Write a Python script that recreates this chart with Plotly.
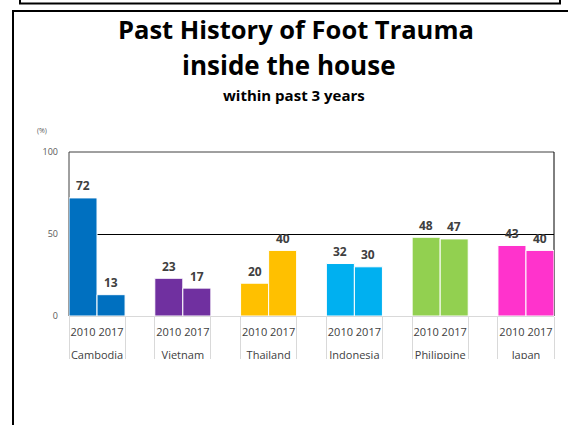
import plotly.graph_objects as go

countries = ["Cambodia", "Vietnam", "Thailand", "Indonesia", "Philippine", "Japan"]
years = ["2010", "2017"]
values_2010 = [72, 23, 20, 32, 48, 43]
values_2017 = [13, 17, 40, 30, 47, 40]
colors = ["#0070C0", "#7030A0", "#FFC000", "#00B0F0", "#92D050", "#FF33CC"]
y_ticks = [0, 50, 100]

W, H = 568, 425
L, R, T, B = 69, 14, 152, 109
PW, PH = W - L - R, H - T - B
FONT = "Open Sans"
GREY = "#404040"


def px(xp):
    return (xp - L) / PW


def py(yp):
    return (H - B - yp) / PH


STEP = 3.06
centers = [i * STEP for i in range(len(countries))]
xrange = [centers[0] - 1, centers[-1] + 1]
edges = [e for c in centers for e in (c - 1, c + 1)]
year_pos = [p for c in centers for p in (c - 0.5, c + 0.5)]
year_text = [y for _ in centers for y in years]

fig = go.Figure()
for vals, off, yr in ((values_2010, -1, years[0]), (values_2017, 0, years[1])):
    fig.add_bar(
        x=centers, y=vals, offset=off, width=1, name=yr,
        marker=dict(color=colors, line=dict(color="white", width=1)),
        showlegend=False, hoverinfo="skip",
    )
    for c, v in zip(centers, vals):
        fig.add_annotation(x=c + off + 0.5, y=v, text=str(v), showarrow=False,
                           xanchor="center", yanchor="middle", yshift=12,
                           font=dict(family=FONT, size=12, color=GREY, weight="bold"))

# carriers for the label axes
fig.add_scatter(x=[], y=[], xaxis="x2", showlegend=False, hoverinfo="skip")
fig.add_scatter(x=[], y=[], xaxis="x3", showlegend=False, hoverinfo="skip")

fig.update_layout(
    width=W, height=H, margin=dict(l=L, r=R, t=T, b=B, pad=0),
    paper_bgcolor="white", plot_bgcolor="white", barmode="overlay",
    font=dict(family=FONT, color=GREY),
    xaxis=dict(range=xrange, tickmode="array", tickvals=edges, showticklabels=False,
               ticks="outside", ticklen=43, tickcolor="#D9D9D9", tickwidth=1,
               showgrid=False, zeroline=False, showline=True, linecolor="#D9D9D9",
               layer="below traces"),
    xaxis2=dict(overlaying="x", anchor="y", range=xrange, tickmode="array",
                tickvals=year_pos, ticktext=year_text, ticks="", showgrid=False,
                zeroline=False, showline=False, ticklabelstandoff=8,
                tickfont=dict(family=FONT, size=11, color=GREY)),
    xaxis3=dict(overlaying="x", anchor="y", range=xrange, tickmode="array",
                tickvals=centers, ticktext=countries, ticks="", showgrid=False,
                zeroline=False, showline=False, ticklabelstandoff=31,
                tickfont=dict(family=FONT, size=11, color=GREY)),
    yaxis=dict(range=[0, 100], tickmode="array", tickvals=y_ticks, showgrid=True,
               gridcolor="black", gridwidth=1, zeroline=True, zerolinecolor="#D9D9D9",
               zerolinewidth=1, showline=False, ticks="", ticklabelstandoff=10,
               tickfont=dict(family=FONT, size=9, color="#595959")),
)

# plot frame: left, top, right sides
for x0, x1, y0, y1, col in ((0, 0, 0, 1, "#404040"), (0, 1, 1, 1, "#404040"),
                            (1, 1, 0, 1, "black")):
    fig.add_shape(type="line", xref="x domain", yref="y domain", x0=x0, x1=x1,
                  y0=y0, y1=y1, line=dict(color=col, width=1), layer="below")

# clip of the label area
fig.add_shape(type="rect", xref="paper", yref="paper", x0=px(60), x1=px(566),
              y0=py(359), y1=py(423), fillcolor="white", line=dict(width=0), layer="above")
# outer frames
fig.add_shape(type="rect", xref="paper", yref="paper", x0=px(20), x1=px(560),
              y0=py(3.5), y1=py(-30), line=dict(color="black", width=2))
fig.add_shape(type="rect", xref="paper", yref="paper", x0=px(13), x1=px(640),
              y0=py(11), y1=py(470), line=dict(color="black", width=2))

fig.add_annotation(text="Past History of Foot Trauma", xref="paper", yref="paper",
                   x=px(296), y=py(29), showarrow=False, xanchor="center", yanchor="middle",
                   font=dict(family=FONT, size=25.5, color="black", weight="bold"))
fig.add_annotation(text="inside the house", xref="paper", yref="paper",
                   x=px(289), y=py(65), showarrow=False, xanchor="center", yanchor="middle",
                   font=dict(family=FONT, size=26, color="black", weight="bold"))
fig.add_annotation(text="within past 3 years", xref="paper", yref="paper",
                   x=px(294), y=py(95), showarrow=False, xanchor="center", yanchor="middle",
                   font=dict(family=FONT, size=15, color="black", weight="bold"))
fig.add_annotation(text="(%)", xref="paper", yref="paper",
                   x=px(42), y=py(130), showarrow=False, xanchor="center", yanchor="middle",
                   font=dict(family=FONT, size=7, color="#595959"))

fig.write_html("out.html", config={"displayModeBar": False},
               post_script="document.body.style.margin='0';")
